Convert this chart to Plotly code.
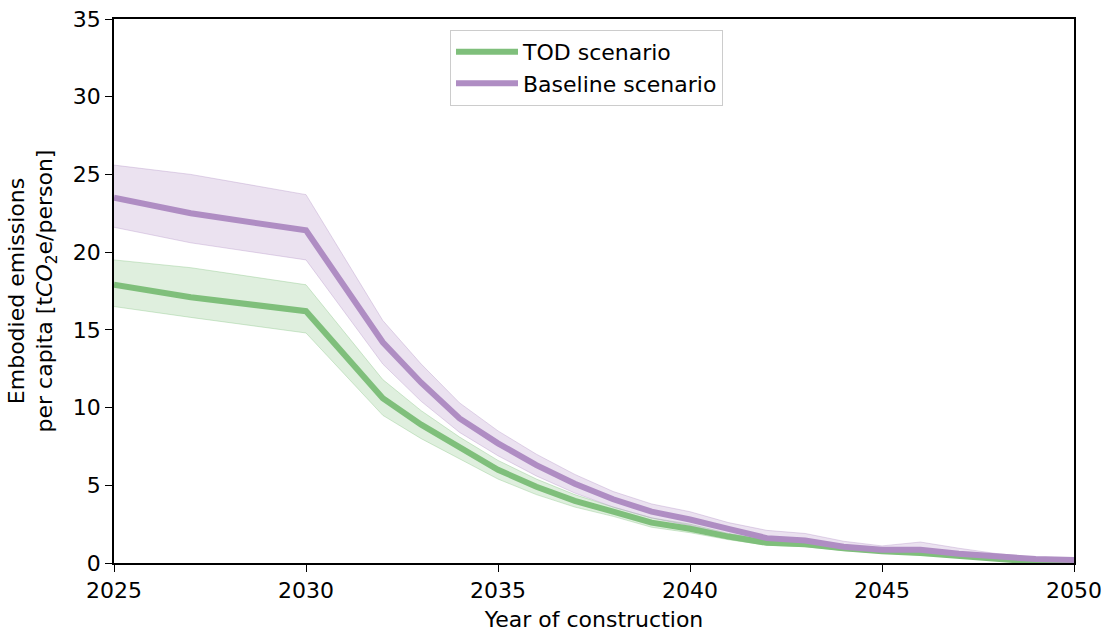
import plotly.graph_objects as go

years = [2025, 2027, 2030, 2032, 2033, 2034, 2035, 2036, 2037, 2038, 2039,
         2040, 2041, 2042, 2043, 2044, 2045, 2046, 2047, 2048, 2049, 2050]

baseline_mean = [23.5, 22.5, 21.4, 14.2, 11.6, 9.3, 7.7, 6.3, 5.1, 4.1, 3.3,
                 2.8, 2.2, 1.6, 1.45, 1.05, 0.85, 0.85, 0.6, 0.4, 0.25, 0.2]
baseline_upper = [25.6, 25.0, 23.7, 15.6, 12.8, 10.3, 8.5, 7.0, 5.7, 4.6, 3.8,
                  3.3, 2.6, 2.1, 1.9, 1.4, 1.1, 1.35, 0.95, 0.6, 0.35, 0.3]
baseline_lower = [21.6, 20.6, 19.5, 12.8, 10.4, 8.4, 6.9, 5.6, 4.5, 3.6, 2.9,
                  2.4, 1.8, 1.3, 1.15, 0.8, 0.65, 0.55, 0.4, 0.25, 0.12, 0.1]

tod_mean = [17.9, 17.1, 16.2, 10.6, 8.9, 7.4, 6.0, 4.9, 4.0, 3.3, 2.6,
            2.2, 1.7, 1.3, 1.2, 0.95, 0.75, 0.65, 0.45, 0.25, 0.08, 0.05]
tod_upper = [19.5, 19.0, 17.9, 11.8, 9.8, 8.1, 6.6, 5.4, 4.4, 3.6, 2.9,
             2.5, 1.9, 1.5, 1.35, 1.1, 0.85, 0.8, 0.55, 0.35, 0.15, 0.1]
tod_lower = [16.5, 15.8, 14.8, 9.5, 8.0, 6.7, 5.4, 4.4, 3.6, 3.0, 2.3,
             1.95, 1.5, 1.15, 1.05, 0.8, 0.65, 0.5, 0.35, 0.15, 0.03, 0.0]

x_ticks = [2025, 2030, 2035, 2040, 2045, 2050]
y_ticks = [0, 5, 10, 15, 20, 25, 30, 35]

GREEN = "#7fbf7b"
PURPLE = "#af8dc3"
GREEN_FILL = "rgba(127,191,123,0.25)"
PURPLE_FILL = "rgba(175,141,195,0.25)"
GREEN_EDGE = "rgba(127,191,123,0.35)"
PURPLE_EDGE = "rgba(175,141,195,0.35)"

FONT = "DejaVu Sans, sans-serif"
FS = 22

fig = go.Figure()


def band(upper, lower, fill, edge):
    fig.add_trace(go.Scatter(x=years, y=upper, mode="lines",
                             line=dict(color=edge, width=1),
                             showlegend=False, hoverinfo="skip"))
    fig.add_trace(go.Scatter(x=years, y=lower, mode="lines",
                             line=dict(color=edge, width=1),
                             fill="tonexty", fillcolor=fill,
                             showlegend=False, hoverinfo="skip"))


band(tod_upper, tod_lower, GREEN_FILL, GREEN_EDGE)
band(baseline_upper, baseline_lower, PURPLE_FILL, PURPLE_EDGE)

fig.add_trace(go.Scatter(x=years, y=tod_mean, mode="lines", name="TOD scenario",
                         line=dict(color=GREEN, width=6)))
fig.add_trace(go.Scatter(x=years, y=baseline_mean, mode="lines",
                         name="Baseline scenario",
                         line=dict(color=PURPLE, width=6)))

axis_common = dict(
    showgrid=False, zeroline=False, showline=True, linecolor="black",
    linewidth=1.5, mirror=True, ticks="outside", ticklen=7, tickwidth=1.3,
    tickcolor="black", tickfont=dict(family=FONT, size=FS, color="black"),
    ticklabeloverflow="allow",
)

fig.update_xaxes(range=[2025, 2050], tickvals=x_ticks,
                 title=dict(text="Year of construction",
                            font=dict(family=FONT, size=FS, color="black"),
                            standoff=9),
                 **axis_common)
fig.update_yaxes(range=[0, 35], tickvals=y_ticks,
                 title=dict(text="Embodied emissions<br>per capita [t<i>CO</i><sub>2</sub>e/person]",
                            font=dict(family=FONT, size=FS, color="black"),
                            standoff=14),
                 **axis_common)

fig.update_layout(
    width=1107, height=632,
    margin=dict(l=114, r=33, t=19, b=69, autoexpand=False),
    plot_bgcolor="white", paper_bgcolor="white",
    font=dict(family=FONT, size=FS, color="black"),
    legend=dict(x=0.35, y=0.98, xanchor="left", yanchor="top",
                bgcolor="white", bordercolor="#cccccc", borderwidth=1,
                font=dict(family=FONT, size=FS, color="black"),
                traceorder="normal", tracegroupgap=0, itemwidth=62),
    showlegend=True,
)

fig.write_html("out.html", config={"displayModeBar": False})

with open("out.html", "r", encoding="utf-8") as f:
    html = f.read()
html = html.replace("<head>", "<head><style>html,body{margin:0;padding:0;overflow:hidden;}</style>", 1)
with open("out.html", "w", encoding="utf-8") as f:
    f.write(html)
